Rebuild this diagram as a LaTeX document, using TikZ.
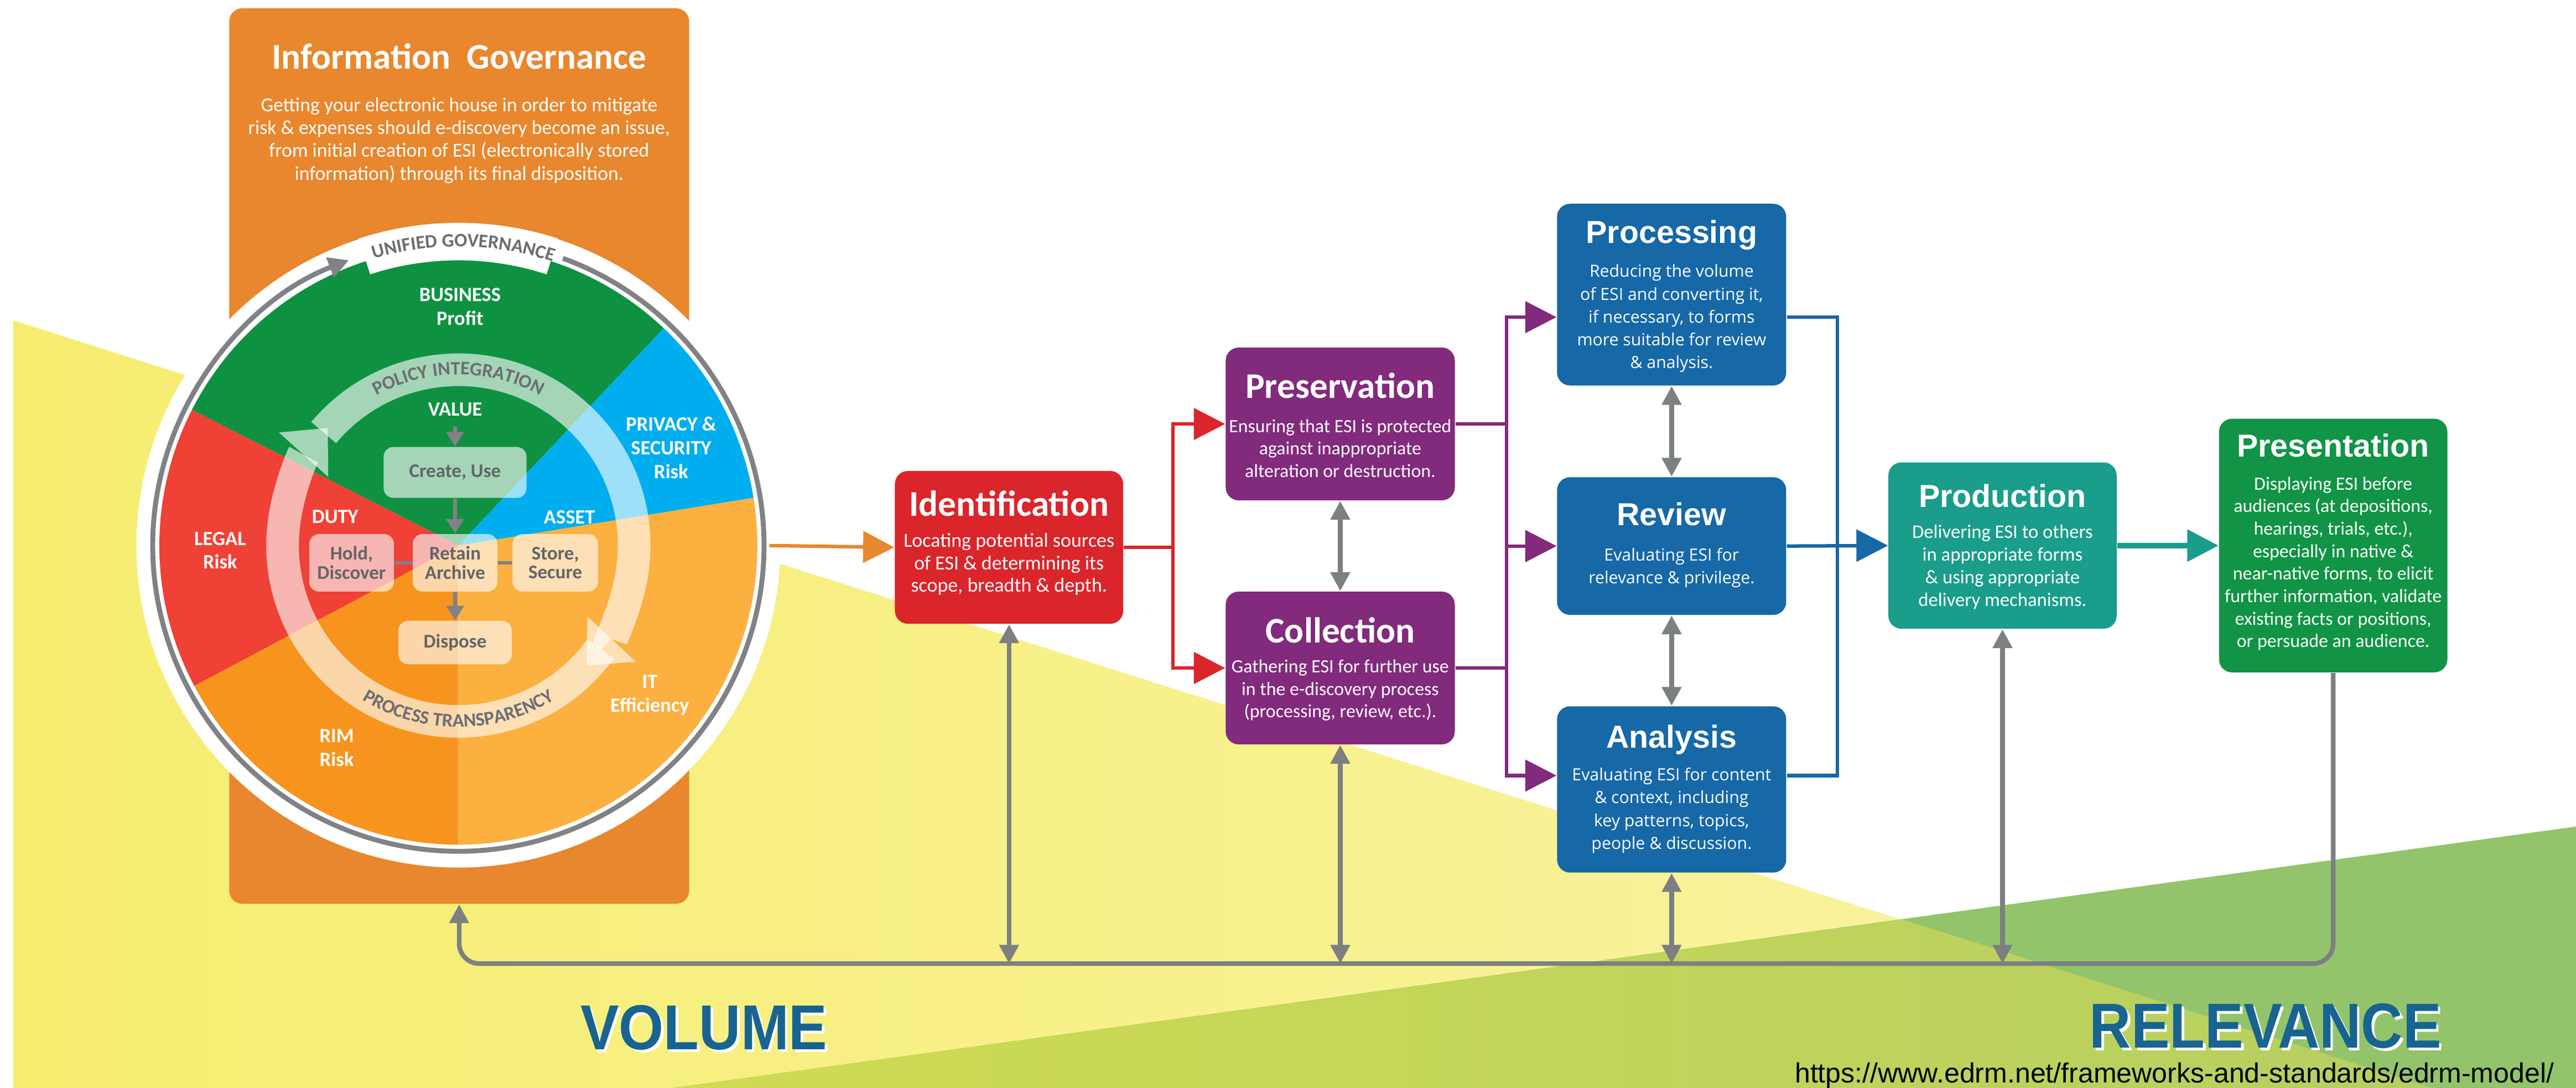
\documentclass[tikz,border=0pt]{standalone}
\usepackage{fontspec}
\usepackage{xcolor}
\usetikzlibrary{arrows.meta,decorations.text}
\setmainfont{Carlito}
\newfontfamily\headFont{Liberation Sans}
\newfontfamily\wideFont{Open Sans}
\definecolor{igOrange}{RGB}{232,135,45}
\definecolor{idRed}{RGB}{218,37,43}
\definecolor{stPurple}{RGB}{130,42,124}
\definecolor{stBlue}{RGB}{22,104,167}
\definecolor{stTeal}{RGB}{27,157,139}
\definecolor{stGreen}{RGB}{17,148,70}
\definecolor{arrowGrey}{RGB}{124,128,128}
\definecolor{ringGrey}{RGB}{128,130,133}
\definecolor{ringText}{RGB}{109,110,113}
\definecolor{coreText}{RGB}{99,101,104}
\definecolor{whGreen}{RGB}{14,146,65}
\definecolor{whRed}{RGB}{239,65,54}
\definecolor{whDark}{RGB}{247,148,29}
\definecolor{whLight}{RGB}{251,176,64}
\definecolor{whBlue}{RGB}{0,174,239}
\definecolor{bgYellowL}{RGB}{246,237,112}
\definecolor{bgYellowR}{RGB}{250,244,168}
\definecolor{bgGreen}{RGB}{147,196,108}
\definecolor{bgLimeL}{RGB}{207,219,82}
\definecolor{bgLimeR}{RGB}{182,207,97}
\definecolor{wordBlue}{RGB}{24,100,145}
\newcommand{\ringFont}{\bfseries\fontsize{6.6}{7}\selectfont\color{ringText}}

\begin{document}
\begin{tikzpicture}[x=0.02cm, y=0.02cm,
  stage/.style={rounded corners=4.5pt, inner sep=0pt, minimum width=2.79cm},
  ctitle/.style={text=white, font=\bfseries\fontsize{12.5}{14}\selectfont},
  htitle/.style={text=white, font=\headFont\bfseries\fontsize{11}{13}\selectfont},
  body/.style={text=white, align=center, font=\fontsize{6.5}{7.8}\selectfont},
  wbody/.style={text=white, align=center, font=\wideFont\fontsize{5.8}{7.9}\selectfont},
  seclabel/.style={text=white, align=center, font=\bfseries\fontsize{7}{8.2}\selectfont},
  core/.style={fill=white, fill opacity=0.62, text opacity=1, text=coreText, rounded corners=3.4pt, inner sep=0pt, align=center, font=\bfseries\fontsize{6.7}{6.6}\selectfont},
  band/.style={draw=white, opacity=0.62, line width=11.3pt, -{Triangle[length=12.5pt,width=23pt,line width=0pt]}},
  flow/.style={line width=1.2pt, -{Triangle[length=10.8pt,width=10.8pt]}},
  dbl/.style={draw=arrowGrey, line width=1.6pt, {Triangle[length=6.5pt,width=6.5pt]}-{Triangle[length=6.5pt,width=6.5pt]}},
  retline/.style={draw=arrowGrey, line width=1.6pt, rounded corners=7pt, -{Triangle[length=6.5pt,width=6.5pt]}},
  corearrow/.style={draw=ringGrey, line width=1.2pt, -{Triangle[length=5pt,width=6pt]}},
  coreline/.style={draw=ringGrey, line width=1.2pt},
  bigword/.style={inner sep=0pt, font=\headFont\bfseries\fontsize{20}{24}\selectfont}]

\useasboundingbox (0,0) rectangle (1568,-662);
\fill[white] (0,0) rectangle (1568,-662);
\shade[left color=bgYellowL, right color=bgYellowR] (8,-195) -- (1480,-662) -- (8,-662) -- cycle;
\fill[bgGreen] (410,-662) -- (1568,-503) -- (1568,-662) -- cycle;
\shade[left color=bgLimeL, right color=bgLimeR] (410,-662) -- (1158,-559.5) -- (1480,-662) -- cycle;

\node (G0) at (279.5,-277.5) [fill=igOrange, rounded corners=4.5pt, minimum width=5.6cm, minimum height=10.9cm] {};
\node (G1) at (279.5,-34.4) [ctitle] {Information\hspace{0.45em}Governance};
\node (G2) at (279.5,-85.5) [body, font=\fontsize{6.85}{7.9}\selectfont] {Getting your electronic house in order to mitigate\\risk \& expenses should e-discovery become an issue,\\from initial creation of ESI (electronically stored\\information) through its final disposition.};

\node (W0) at (279,-332) [circle, fill=white, minimum size=7.84cm, inner sep=0pt] {};
\fill[whGreen] (W0.center) -- ++(46.6:182) arc[start angle=46.6, end angle=153, radius=182] -- cycle;
\fill[whRed] (W0.center) -- ++(153:182) arc[start angle=153, end angle=208, radius=182] -- cycle;
\fill[whDark] (W0.center) -- ++(208:182) arc[start angle=208, end angle=270, radius=182] -- cycle;
\fill[whLight] (W0.center) -- ++(270:182) arc[start angle=270, end angle=369.2, radius=182] -- cycle;
\fill[whBlue] (W0.center) -- ++(9.2:182) arc[start angle=9.2, end angle=46.6, radius=182] -- cycle;
\draw[white, line width=13pt] ([shift={(108:185)}]W0.center) arc[start angle=108, end angle=72, radius=185];
\draw[ringGrey, line width=1.7pt, -{Triangle[length=7pt,width=7pt]}] ([shift={(70:186)}]W0.center) arc[start angle=70, end angle=-249, radius=186];
\path[decorate, decoration={text along path, text align=center, text={|\ringFont|UNIFIED GOVERNANCE}}] ([shift={(108:182)}]W0.center) arc[start angle=108, end angle=70, radius=182];

\draw[band] ([shift={(140:107)}]W0.center) arc[start angle=140, end angle=-43, radius=107];
\draw[band] ([shift={(-36:107)}]W0.center) arc[start angle=-36, end angle=-222, radius=107];
\path[decorate, decoration={text along path, text align=center, text={|\ringFont|POLICY INTEGRATION}}] ([shift={(126:104)}]W0.center) arc[start angle=126, end angle=54, radius=104];
\path[decorate, decoration={text along path, text align=center, text={|\ringFont|PROCESS TRANSPARENCY}}] ([shift={(232:110.5)}]W0.center) arc[start angle=232, end angle=308, radius=110.5];

\node (L1) at (280,-186.5) [seclabel] {BUSINESS\\Profit};
\node (L2) at (408.5,-272.5) [seclabel] {PRIVACY \&\\SECURITY\\Risk};
\node (L3) at (134,-335) [seclabel] {LEGAL\\Risk};
\node (L4) at (205,-455) [seclabel] {RIM\\Risk};
\node (L5) at (395.5,-423) [seclabel] {IT\\Efficiency};
\node (V0) at (277,-249) [seclabel] {VALUE};
\node (V1) at (204,-314.6) [seclabel] {DUTY};
\node (V2) at (346.6,-314.6) [seclabel] {ASSET};

\node (C1) at (277,-287.5) [core, minimum width=1.74cm, minimum height=0.62cm] {Create, Use};
\node (C2) at (214,-342.5) [core, minimum width=1.03cm, minimum height=0.7cm] {Hold,\\Discover};
\node (C3) at (277,-342.5) [core, minimum width=1.03cm, minimum height=0.7cm] {Retain\\Archive};
\node (C4) at (338,-342.5) [core, minimum width=1.04cm, minimum height=0.7cm] {Store,\\Secure};
\node (C5) at (277,-391) [core, minimum width=1.38cm, minimum height=0.53cm] {Dispose};
\draw[corearrow] (V0) -- (C1);
\draw[corearrow] (C1) -- (C3);
\draw[corearrow] (C3) -- (C5);
\draw[coreline] (C2) -- (C3);
\draw[coreline] (C3) -- (C4);

\node (S1) at (614.2,-333.1) [stage, fill=idRed, minimum width=2.78cm, minimum height=1.86cm] {};
\node (S2) at (815.8,-258) [stage, fill=stPurple, minimum height=1.86cm] {};
\node (S3) at (815.8,-406.5) [stage, fill=stPurple, minimum height=1.86cm] {};
\node (S4) at (1017.5,-179.3) [stage, fill=stBlue, minimum height=2.212cm] {};
\node (S5) at (1017.5,-332.3) [stage, fill=stBlue, minimum height=1.676cm] {};
\node (S6) at (1017.5,-480.4) [stage, fill=stBlue, minimum height=2.024cm] {};
\node (S7) at (1218.9,-332) [stage, fill=stTeal, minimum width=2.78cm, minimum height=2.024cm] {};
\node (S8) at (1420.2,-332) [stage, fill=stGreen, minimum width=2.78cm, minimum height=3.088cm] {};

\node (T1) at (614.2,-306.5) [ctitle] {Identification};
\node (T2) at (815.8,-234.5) [ctitle] {Preservation};
\node (T3) at (815.8,-383.6) [ctitle] {Collection};
\node (T4) at (1017.5,-143) [htitle] {Processing};
\node (T5) at (1017.5,-313) [htitle] {Review};
\node (T6) at (1017.5,-450) [htitle] {Analysis};
\node (T7) at (1218.9,-301.8) [htitle] {Production};
\node (T8) at (1420.2,-271) [htitle] {Presentation};

\node (B1) at (614.2,-343.4) [body, font=\fontsize{6.9}{7.8}\selectfont] {Locating potential sources\\of ESI \& determining its\\scope, breadth \& depth.};
\node (B2) at (815.8,-272.9) [body] {Ensuring that ESI is protected\\against inappropriate\\alteration or destruction.};
\node (B3) at (815.8,-420) [body] {Gathering ESI for further use\\in the e-discovery process\\(processing, review, etc.).};
\node (B4) at (1017.5,-193.8) [wbody] {Reducing the volume\\of ESI and converting it,\\if necessary, to forms\\more suitable for review\\\& analysis.};
\node (B5) at (1017.5,-345.5) [wbody] {Evaluating ESI for\\relevance \& privilege.};
\node (B6) at (1017.5,-493.2) [wbody] {Evaluating ESI for content\\\& context, including\\key patterns, topics,\\people \& discussion.};
\node (B7) at (1218.9,-345.1) [body, font=\fontsize{6.65}{7.8}\selectfont] {Delivering ESI to others\\in appropriate forms\\\& using appropriate\\delivery mechanisms.};
\node (B8) at (1420.2,-343) [body] {Displaying ESI before\\audiences (at depositions,\\hearings, trials, etc.),\\especially in native \&\\near-native forms, to elicit\\further information, validate\\existing facts or positions,\\or persuade an audience.};

\draw[flow, draw=igOrange] ([xshift=-4pt]W0.east) -- (S1.west);
\draw[flow, draw=idRed] (S1.east) -- ++(30,0) |- (S2.west);
\draw[flow, draw=idRed] (S1.east) -- ++(30,0) |- (S3.west);
\draw[flow, draw=stPurple] (S2.east) -- ++(31,0) |- ([yshift=-7.8pt]S4.west);
\draw[flow, draw=stPurple] (S2.east) -- ++(31,0) |- (S5.west);
\draw[flow, draw=stPurple] (S3.east) -- ++(31,0) |- (S5.west);
\draw[flow, draw=stPurple] (S3.east) -- ++(31,0) |- ([yshift=4.8pt]S6.west);
\draw[flow, draw=stBlue] ([yshift=-7.8pt]S4.east) -- ++(30.7,0) |- (S7.west);
\draw[flow, draw=stBlue] ([yshift=4.8pt]S6.east) -- ++(30.7,0) |- (S7.west);
\draw[flow, draw=stBlue] (S5.east) -- (S7.west);
\draw[flow, draw=stTeal, line width=1.8pt] (S7.east) -- (S8.west);

\draw[dbl] (S2.south) -- (S3.north);
\draw[dbl] (S4.south) -- (S5.north);
\draw[dbl] (S5.south) -- (S6.north);

\coordinate (R0) at (279.5,-586.4);
\draw[retline] (S8.south) |- (R0) -- (G0.south);
\draw[dbl] (S1.south) -- (S1.south |- R0);
\draw[dbl] (S3.south) -- (S3.south |- R0);
\draw[dbl] (S6.south) -- (S6.south |- R0);
\draw[dbl] (S7.south) -- (S7.south |- R0);

\node (M1) at (430,-627) [bigword, text=white] {\scalebox{1}[1.1]{VOLUME}};
\node (M2) at (428.5,-625.5) [bigword, text=wordBlue] {\scalebox{1}[1.1]{VOLUME}};
\node (M3) at (1380.5,-626) [bigword, text=white] {\scalebox{1}[1.1]{RELEVANCE}};
\node (M4) at (1379,-624.5) [bigword, text=wordBlue] {\scalebox{1}[1.1]{RELEVANCE}};
\node (U0) at (1555,-659) [anchor=base east, inner sep=0pt, font=\headFont\fontsize{9.6}{11}\selectfont] {https://www.edrm.net/frameworks-and-standards/edrm-model/};

\end{tikzpicture}
\end{document}
